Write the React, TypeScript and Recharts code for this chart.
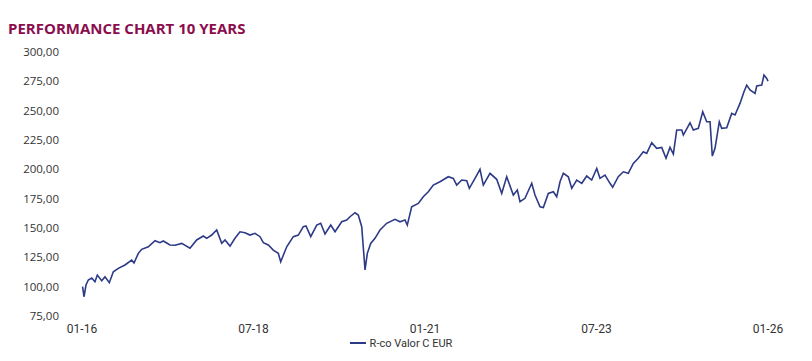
import { Legend, Line, LineChart, XAxis, YAxis } from 'recharts'

// months since 01-16
const months = [
  0.1, 0.35, 0.7, 1.1, 1.7, 2.27, 2.68, 3.45, 4.02, 4.78, 5.48, 6.35, 7.52, 8.69, 9.1, 9.85, 10.44, 11.6,
  12.77, 13.64, 14.22, 15.39, 16.27, 17.44, 18.89, 20.06, 21.22, 21.81, 22.69, 23.56, 24.44, 25.02, 25.89,
  26.76, 27.64, 28.51, 29.39, 30.26, 31.14, 31.72, 32.59, 33.46, 34.34, 34.76, 35.81, 36.96, 37.84, 38.71,
  39.18, 40.01, 41.06, 41.76, 42.51, 43.51, 44.26, 45.43, 46.3, 46.88, 47.76, 48.33, 48.93, 49.51, 49.91,
  50.5, 51.25, 52.13, 53.3, 54.75, 55.63, 56.5, 56.9, 57.67, 58.83, 59.7, 60.58, 61.45, 62.62, 64.08, 64.95,
  65.55, 66.42, 67.3, 67.75, 68.75, 69.62, 70.2, 71.37, 72.54, 73.42, 74.29, 75.45, 76.15, 76.62, 77.49,
  78.67, 79.24, 80.12, 80.7, 81.57, 82.45, 83.04, 83.62, 84.2, 85.07, 85.67, 86.54, 87.42, 88.29, 89.16,
  90.04, 90.61, 91.49, 92.36, 92.83, 93.81, 94.69, 95.56, 96.44, 97.31, 98.19, 98.78, 99.66, 100.53,
  101.41, 102.16, 102.86, 103.44, 104.03, 104.91, 105.19, 106.36, 106.94, 107.81, 108.58, 109.28, 109.86,
  110.26, 110.73, 111.48, 111.9, 112.78, 113.65, 114.23, 115.1, 115.8, 116.28, 116.85, 117.73, 118.03,
  118.9, 119.3, 119.78, 120,
]

const rcoValor = [
  100.0, 91.4, 101.4, 105.7, 107.4, 104.2, 109.9, 105.1, 108.5, 103.4, 112.7, 115.6, 118.5, 122.7, 120.2,
  128.4, 131.8, 134.0, 139.2, 137.5, 138.9, 135.5, 135.3, 136.9, 132.7, 139.8, 143.2, 141.2, 144.0, 148.3,
  136.9, 139.8, 134.6, 141.2, 146.8, 146.0, 144.0, 145.5, 142.6, 137.5, 135.5, 131.2, 128.4, 121.3, 134.0,
  142.6, 144.0, 151.1, 151.7, 142.6, 152.5, 154.0, 144.9, 152.5, 146.8, 155.3, 156.8, 159.6, 163.0, 161.1,
  151.1, 114.2, 128.4, 136.9, 141.2, 148.3, 154.0, 157.4, 155.3, 156.8, 152.5, 168.1, 171.0, 176.6, 180.9,
  186.6, 189.4, 193.7, 192.3, 186.6, 190.9, 190.3, 183.8, 192.3, 200.0, 186.6, 196.6, 191.5, 179.5, 193.7,
  178.1, 182.4, 172.4, 175.3, 188.1, 178.1, 168.1, 167.5, 179.5, 180.9, 176.6, 189.4, 196.6, 193.7, 183.8,
  190.9, 188.1, 194.3, 190.9, 200.8, 192.3, 195.1, 188.1, 184.7, 193.7, 197.9, 196.6, 205.1, 209.4, 215.0,
  213.6, 222.7, 217.9, 218.7, 209.4, 218.7, 213.0, 233.5, 233.5, 229.2, 239.7, 233.5, 234.9, 249.1, 240.5,
  240.5, 211.3, 217.9, 240.5, 234.9, 235.5, 247.7, 246.3, 256.2, 266.1, 271.8, 267.6, 264.7, 271.0, 271.8,
  280.3, 277.5, 275.2,
]

const xTicks = [0, 30, 60, 90, 120]
const xTickLabels = ['01-16', '07-18', '01-21', '07-23', '01-26']
const yTicks = [75, 100, 125, 150, 175, 200, 225, 250, 275, 300]

const data = months.map((m, i) => ({ m, value: rcoValor[i] }))

const navy = '#2d3a86'

export default function App() {
  return (
    <div style={{ position: 'relative', width: 796, height: 345 }}>
      <div
        style={{
          position: 'absolute',
          top: 11,
          left: 0,
          fontFamily: '"Open Sans", sans-serif',
          fontWeight: 700,
          fontSize: 15,
          lineHeight: '18px',
          color: '#8b0d4e',
          whiteSpace: 'nowrap',
        }}
      >
        PERFORMANCE CHART 10 YEARS
      </div>
      <LineChart width={796} height={345} data={data} margin={{ top: 44, right: 36, left: 0, bottom: 0 }}>
        <XAxis
          dataKey="m"
          type="number"
          domain={[0, 120]}
          ticks={xTicks}
          tickFormatter={(v: number) => xTickLabels[xTicks.indexOf(v)]}
          axisLine={false}
          tickLine={false}
          tickSize={0}
          tickMargin={8}
          height={17}
          tick={{ fill: '#333', fontSize: 12, fontFamily: 'Roboto, sans-serif' }}
        />
        <YAxis
          domain={[75, 300]}
          ticks={yTicks}
          tickFormatter={(v: number) => v.toFixed(2).replace('.', ',')}
          axisLine={false}
          tickLine={false}
          tickSize={0}
          tickMargin={23}
          width={74}
          tick={{ fill: '#333', fontSize: 11.5, fontFamily: '"Open Sans", sans-serif' }}
        />
        <Legend
          verticalAlign="bottom"
          height={20}
          iconSize={16}
          wrapperStyle={{ left: 0, width: 796 }}
          formatter={(value: string) => (
            <span style={{ color: '#333', fontSize: 11, fontFamily: 'Roboto, sans-serif' }}>{value}</span>
          )}
        />
        <Line
          name="R-co Valor C EUR"
          dataKey="value"
          stroke={navy}
          strokeWidth={1.6}
          dot={false}
          legendType="plainline"
          isAnimationActive={false}
        />
      </LineChart>
    </div>
  )
}
